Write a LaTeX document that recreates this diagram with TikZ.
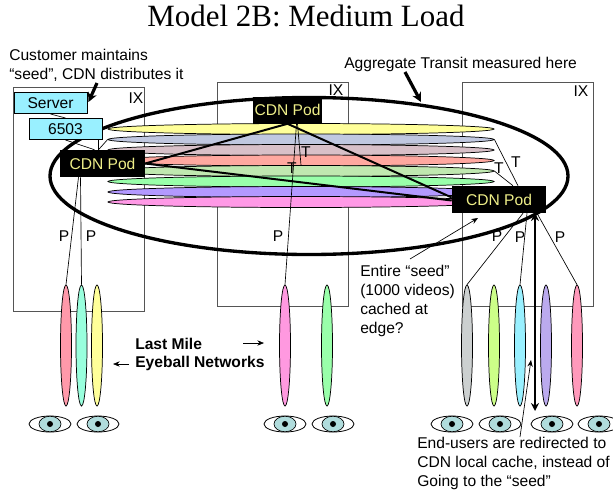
\documentclass[tikz,border=0pt]{standalone}
\usepackage{fontspec}
\setmainfont{Liberation Sans}
\newfontfamily\titlefont{Liberation Serif}
\usetikzlibrary{shapes.geometric,calc,arrows.meta}
\definecolor{hA}{HTML}{FFFF99}
\definecolor{hB}{HTML}{C0C8E0}
\definecolor{hC}{HTML}{D8C0C8}
\definecolor{hD}{HTML}{FFA8A0}
\definecolor{hE}{HTML}{C0E8B0}
\definecolor{hF}{HTML}{99FFAA}
\definecolor{hG}{HTML}{B399FF}
\definecolor{hH}{HTML}{FF99E6}
\definecolor{vA}{HTML}{FF99AA}
\definecolor{vB}{HTML}{99FFDD}
\definecolor{vC}{HTML}{FFFF99}
\definecolor{vD}{HTML}{FF99E0}
\definecolor{vE}{HTML}{99FFAA}
\definecolor{vF}{HTML}{CCD0D0}
\definecolor{vG}{HTML}{CCFF88}
\definecolor{vH}{HTML}{99F0FF}
\definecolor{vI}{HTML}{BBAAEE}
\definecolor{vJ}{HTML}{FF99BB}
\definecolor{srv}{HTML}{99F0FF}
\definecolor{iris}{HTML}{B0DCDC}
\definecolor{podtext}{HTML}{EEEE88}
\definecolor{boxline}{HTML}{555555}
\def\u{0.75pt}
\tikzset{
  x=0.75pt,y=-0.75pt,
  ixbox/.style={draw=boxline,line width=0.75pt,fill=white,rectangle,inner sep=0pt,minimum width=131*\u},
  srvbox/.style={draw=black,line width=0.75pt,fill=srv,rectangle,inner sep=0pt,minimum width=73*\u,minimum height=21*\u,font=\fontsize{11.7}{13}\selectfont},
  pod/.style={fill=black,text=podtext,rectangle,inner sep=0pt,minimum height=27*\u,font=\fontsize{11.7}{13}\selectfont},
  hlens/.style={ellipse,draw=black,line width=0.55pt,inner sep=0pt,minimum width=386*\u,minimum height=11*\u},
  vlens/.style={ellipse,draw=black,line width=0.55pt,inner sep=0pt,minimum width=11*\u,minimum height=121*\u},
  eyeout/.style={ellipse,draw=black,line width=0.6pt,fill=white,inner sep=0pt,minimum width=42*\u,minimum height=16*\u},
  eyeiris/.style={ellipse,draw=black,line width=0.5pt,fill=iris,inner sep=0pt,minimum width=22*\u,minimum height=15.5*\u},
  pupil/.style={circle,fill=black,inner sep=0pt,minimum size=6*\u},
  lbl/.style={inner sep=0pt,font=\fontsize{11.7}{13}\selectfont},
  txt/.style={inner sep=0pt,align=left,anchor=west,font=\fontsize{11.7}{14.1}\selectfont},
  thin line/.style={draw=black,line width=0.5pt},
  pod line/.style={draw=black,line width=1.5pt},
  small arrow/.style={draw=black,line width=0.5pt,-{Stealth[length=5pt,width=4pt]}},
  big arrow/.style={draw=black,line width=2.4pt,-{Stealth[length=7pt,width=7pt]}},
}
\begin{document}
\begin{tikzpicture}
\useasboundingbox (0,0) rectangle (613,493);
% IX boxes
\node[ixbox,minimum height=224*\u] (ixa) at (79,199.5) {};
\node[ixbox,minimum height=224*\u] (ixb) at (282.5,194) {};
\node[ixbox,minimum height=224*\u] (ixc) at (527.5,194) {};
\node[lbl] (ixla) at (136,98) {IX};
\node[lbl] (ixlb) at (336,90) {IX};
\node[lbl] (ixlc) at (581,91) {IX};
% horizontal lenses
\node[hlens,fill=hA] (ha) at (301,129) {};
\node[hlens,fill=hB] (hb) at (301,139.5) {};
\node[hlens,fill=hC] (hc) at (301,150) {};
\node[hlens,fill=hD] (hd) at (301,160.5) {};
\node[hlens,fill=hE] (he) at (301,171) {};
\node[hlens,fill=hF] (hf) at (301,181.5) {};
\node[hlens,fill=hG] (hg) at (301,192) {};
\node[hlens,fill=hH] (hh) at (301,202) {};
% big ring
\node[ellipse,draw=black,line width=2.5pt,inner sep=0pt,minimum width=518*\u,minimum height=157*\u] (ring) at (309,176) {};
% vertical lenses
\node[vlens,fill=vA] (va) at (66,345.5) {};
\node[vlens,fill=vB] (vb) at (81.5,345.5) {};
\node[vlens,fill=vC] (vc) at (97,345.5) {};
\node[vlens,fill=vD] (vd) at (285,345.5) {};
\node[vlens,fill=vE] (ve) at (327,345.5) {};
\node[vlens,fill=vF] (vf) at (467,345.5) {};
\node[vlens,fill=vG] (vg) at (494,345.5) {};
\node[vlens,fill=vH] (vh) at (520,345.5) {};
\node[vlens,fill=vI] (vi) at (546,345.5) {};
\node[vlens,fill=vJ] (vj) at (577,345.5) {};
% server boxes
\node[srvbox] (server) at (50.5,103) {Server};
\node[srvbox] (sw) at (65.5,129) {6503};
% pods
\node[pod,minimum width=85*\u] (poda) at (102.5,163.5) {CDN Pod};
\node[pod,minimum width=69*\u] (podb) at (287.5,110) {CDN Pod};
\node[pod,minimum width=94*\u] (podc) at (499,199.5) {CDN Pod};
% connectors
\draw[thin line] (server.south) -- (sw.north);
\draw[thin line] (sw.south) -- ($(poda.north)+(-8,0)$);
\draw[thin line] ($(sw.south east)+(-4,0)$) -- ($(poda.north)+(-4,0)$);
\draw[thin line] ($(poda.north)+(-4,0)$) -- (hb.west);
\draw[thin line] ($(poda.south)+(-24,0)$) -- (va.north);
\draw[thin line] ($(poda.south)+(-22,0)$) -- (vb.north);
\draw[thin line] ($(podb.south)+(9,0)$) -- (vd.north);
\draw[thin line] ($(podb.south)+(10,0)$) -- (he.north -| 301,165);
\draw[thin line] ($(podc.north)+(19,0)$) -- (hb.east);
\draw[thin line] ($(podc.north)+(14,0)$) -- (he.east);
\draw[thin line] ($(podc.south)+(24,0)$) -- (vf.north);
\draw[thin line] ($(podc.south)+(28,0)$) -- (vh.north);
\draw[thin line] ($(podc.south)+(38,0)$) -- (vj.north);
\draw[pod line] (poda.east) -- (podb.south);
\draw[pod line] (poda.east) -- ($(podc.west)+(0,1)$);
\draw[pod line] (podb.south) -- ($(podc.west)+(0,-2)$);
% eyes
\foreach \n/\ex in {a/50,b/98,c/285,d/333,e/452,f/500,g/552,h/599}{
  \node[eyeout] (eye\n) at (\ex,424) {};
  \node[eyeiris] (iris\n) at (\ex,424) {};
  \node[pupil] (pup\n) at (\ex,424) {};
}
% labels P and T
\node[lbl] (pa) at (64,236) {P};
\node[lbl] (pb) at (91,236) {P};
\node[lbl] (pc) at (278,236) {P};
\node[lbl] (pd) at (497,236) {P};
\node[lbl] (pe) at (520,237) {P};
\node[lbl] (pf) at (560,237) {P};
\node[lbl] (ta) at (292,168) {T};
\node[lbl] (tb) at (306,152) {T};
\node[lbl] (tc) at (499,168) {T};
\node[lbl] (td) at (516,162) {T};
% title
\node[inner sep=0pt,font=\titlefont\fontsize{23.2}{26}\selectfont] (title) at (306,16) {Model 2B: Medium Load};
% annotations
\node[txt] (cust) at (9,65) {Customer maintains\\“seed”, CDN distributes it};
\node[txt] (aggr) at (344,64) {Aggregate Transit measured here};
\node[txt,font=\bfseries\fontsize{11.7}{14.1}\selectfont] (lastmile) at (135,354.5) {Last Mile\\Eyeball Networks};
\node[txt] (entire) at (360,301) {Entire “seed”\\(1000 videos)\\cached at\\edge?};
\node[txt] (endu) at (417,463.5) {End-users are redirected to\\CDN local cache, instead of\\Going to the “seed”};
% annotation arrows
\coordinate (custS) at (97,83);
\draw[big arrow] (custS) -- ($(server.east)+(1,-1)$);
\coordinate (aggS) at (405,72);
\coordinate (aggE) at (421,102);
\draw[big arrow] (aggS) -- (aggE);
\coordinate (entS) at (410,259);
\coordinate (entE) at (478,218);
\draw[small arrow] (entS) -- (entE);
\coordinate (endS) at (520,437);
\coordinate (endE) at (531,360);
\draw[small arrow] (endS) -- (endE);
\coordinate (lmA) at (243,343);
\coordinate (lmB) at (264,343);
\draw[small arrow] (lmA) -- (lmB);
\coordinate (lmC) at (129,364);
\coordinate (lmD) at (113,364);
\draw[small arrow] (lmC) -- (lmD);
\coordinate (dblS) at (535,213);
\coordinate (dblE) at (535,411);
\draw[draw=black,line width=1.8pt,{Stealth[length=6pt,width=6pt]}-{Stealth[length=6pt,width=6pt]}] (dblS) -- (dblE);
\end{tikzpicture}
\end{document}
